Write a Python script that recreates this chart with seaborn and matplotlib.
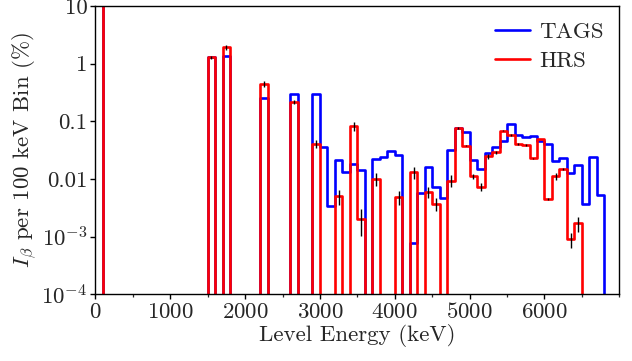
import numpy as np
import pandas as pd
import matplotlib
matplotlib.use("Agg")
import matplotlib.pyplot as plt
from matplotlib.ticker import FixedLocator, FixedFormatter, NullLocator, MultipleLocator
import seaborn as sns

sns.set_style("ticks")
plt.rcParams.update({
    "font.family": ["cmr10", "DejaVu Serif"],
    "mathtext.fontset": "cm",
    "axes.unicode_minus": False,
    "axes.formatter.use_mathtext": True,
    "font.size": 16.5,
})

# Beta feeding per 100 keV bin (%), keyed by the lower edge of each bin (keV)
tags_energy = [0, 1500, 1700, 2200, 2600, 2900, 3000, 3100, 3200, 3300, 3400, 3500,
               3700, 3800, 3900, 4000, 4200, 4300, 4400, 4500, 4600, 4700, 4800, 4900,
               5000, 5100, 5200, 5300, 5400, 5500, 5600, 5700, 5800, 5900, 6000, 6100,
               6200, 6300, 6400, 6500, 6600, 6700]
tags_intensity = [60, 1.29, 1.34, 0.254, 0.30, 0.30, 0.0358, 0.00343, 0.0215, 0.0130, 0.0182, 0.0141,
                  0.0224, 0.0236, 0.030, 0.0256, 0.00079, 0.0058, 0.0161, 0.0074, 0.0047, 0.032, 0.078, 0.064,
                  0.0215, 0.0148, 0.028, 0.036, 0.046, 0.091, 0.059, 0.053, 0.056, 0.045, 0.041, 0.0207,
                  0.0231, 0.0126, 0.0177, 0.0037, 0.024, 0.0053]

hrs_energy = [0, 1500, 1700, 2200, 2600, 2900, 3200, 3400, 3500, 3700, 4000, 4200,
              4400, 4500, 4700, 4800, 4900, 5000, 5100, 5200, 5300, 5400, 5500, 5600,
              5700, 5800, 5900, 6000, 6100, 6200, 6300, 6400]
hrs_intensity = [60, 1.29, 1.92, 0.445, 0.216, 0.041, 0.00497, 0.0817, 0.00201, 0.0101, 0.00478, 0.013,
                 0.0060, 0.0037, 0.0094, 0.0764, 0.0377, 0.0111, 0.0074, 0.0246, 0.0288, 0.0687, 0.058, 0.0403,
                 0.039, 0.0227, 0.0499, 0.00448, 0.0111, 0.0148, 0.000906, 0.00171]
hrs_error = [0, 0.09, 0.21, 0.05, 0.018, 0.007, 0.0014, 0.014, 0.00099, 0.0025, 0.0013, 0.0029,
             0.0014, 0.0009, 0.0022, 0.003, 0.001, 0.001, 0.0012, 0.0025, 0.0022, 0.002, 0.002, 0.001,
             0.001, 0.0005, 0.0, 0.0002, 0.0014, 0.0006, 0.00027, 0.0005]

bin_width = 100
edges = list(range(0, 7000 + bin_width, bin_width))

tags = pd.DataFrame({"energy": np.array(tags_energy) + bin_width / 2, "intensity": tags_intensity})
hrs = pd.DataFrame({"energy": np.array(hrs_energy) + bin_width / 2, "intensity": hrs_intensity,
                    "error": hrs_error})

fig = plt.figure(figsize=(6.32, 3.61), dpi=100)
ax = fig.add_axes([0.1511, 0.1848, 0.8288, 0.7986])

sns.histplot(data=tags, x="energy", weights="intensity", bins=edges, element="step",
             fill=False, color="#0000ff", linewidth=1.9, label="TAGS", ax=ax)
sns.histplot(data=hrs, x="energy", weights="intensity", bins=edges, element="step",
             fill=False, color="#ff0000", linewidth=1.9, label="HRS", ax=ax)

err = hrs[hrs["error"] > 0]
ax.errorbar(err["energy"], err["intensity"], yerr=err["error"], fmt="none",
            ecolor="black", elinewidth=1.0, capsize=0, zorder=5)

ax.set_yscale("log")
ax.set_xlim(0, 7000)
ax.set_ylim(1e-4, 10)

ytick_values = [1e-4, 1e-3, 1e-2, 1e-1, 1, 10]
ytick_labels = [r"$10^{-4}$", r"$10^{-3}$", "0.01", "0.1", "1", "10"]
ax.yaxis.set_major_locator(FixedLocator(ytick_values))
ax.yaxis.set_major_formatter(FixedFormatter(ytick_labels))
ax.yaxis.set_minor_locator(NullLocator())
ax.set_xticks(range(0, 7000, 1000))
ax.xaxis.set_minor_locator(MultipleLocator(500))

ax.tick_params(axis="both", which="major", direction="out", length=3.8, width=1.0,
               labelsize=16.5, color="black", pad=2)
ax.tick_params(axis="x", which="minor", direction="out", length=2.2, width=0.9)
for side in ["top", "right", "left", "bottom"]:
    ax.spines[side].set_visible(True)
    ax.spines[side].set_linewidth(1.0)
    ax.spines[side].set_color("black")

ax.set_xlabel("Level Energy (keV)", fontsize=16.5, labelpad=1)
ax.set_ylabel(r"$I_\beta$ per 100 keV Bin (%)", fontsize=16.5, labelpad=2)

leg = ax.legend(loc="upper right", frameon=False, borderaxespad=0.08, handlelength=1.55,
                handletextpad=0.4, labelspacing=0.42, borderpad=0.6, fontsize=16.5)

fig.savefig("out.png", dpi=100)
